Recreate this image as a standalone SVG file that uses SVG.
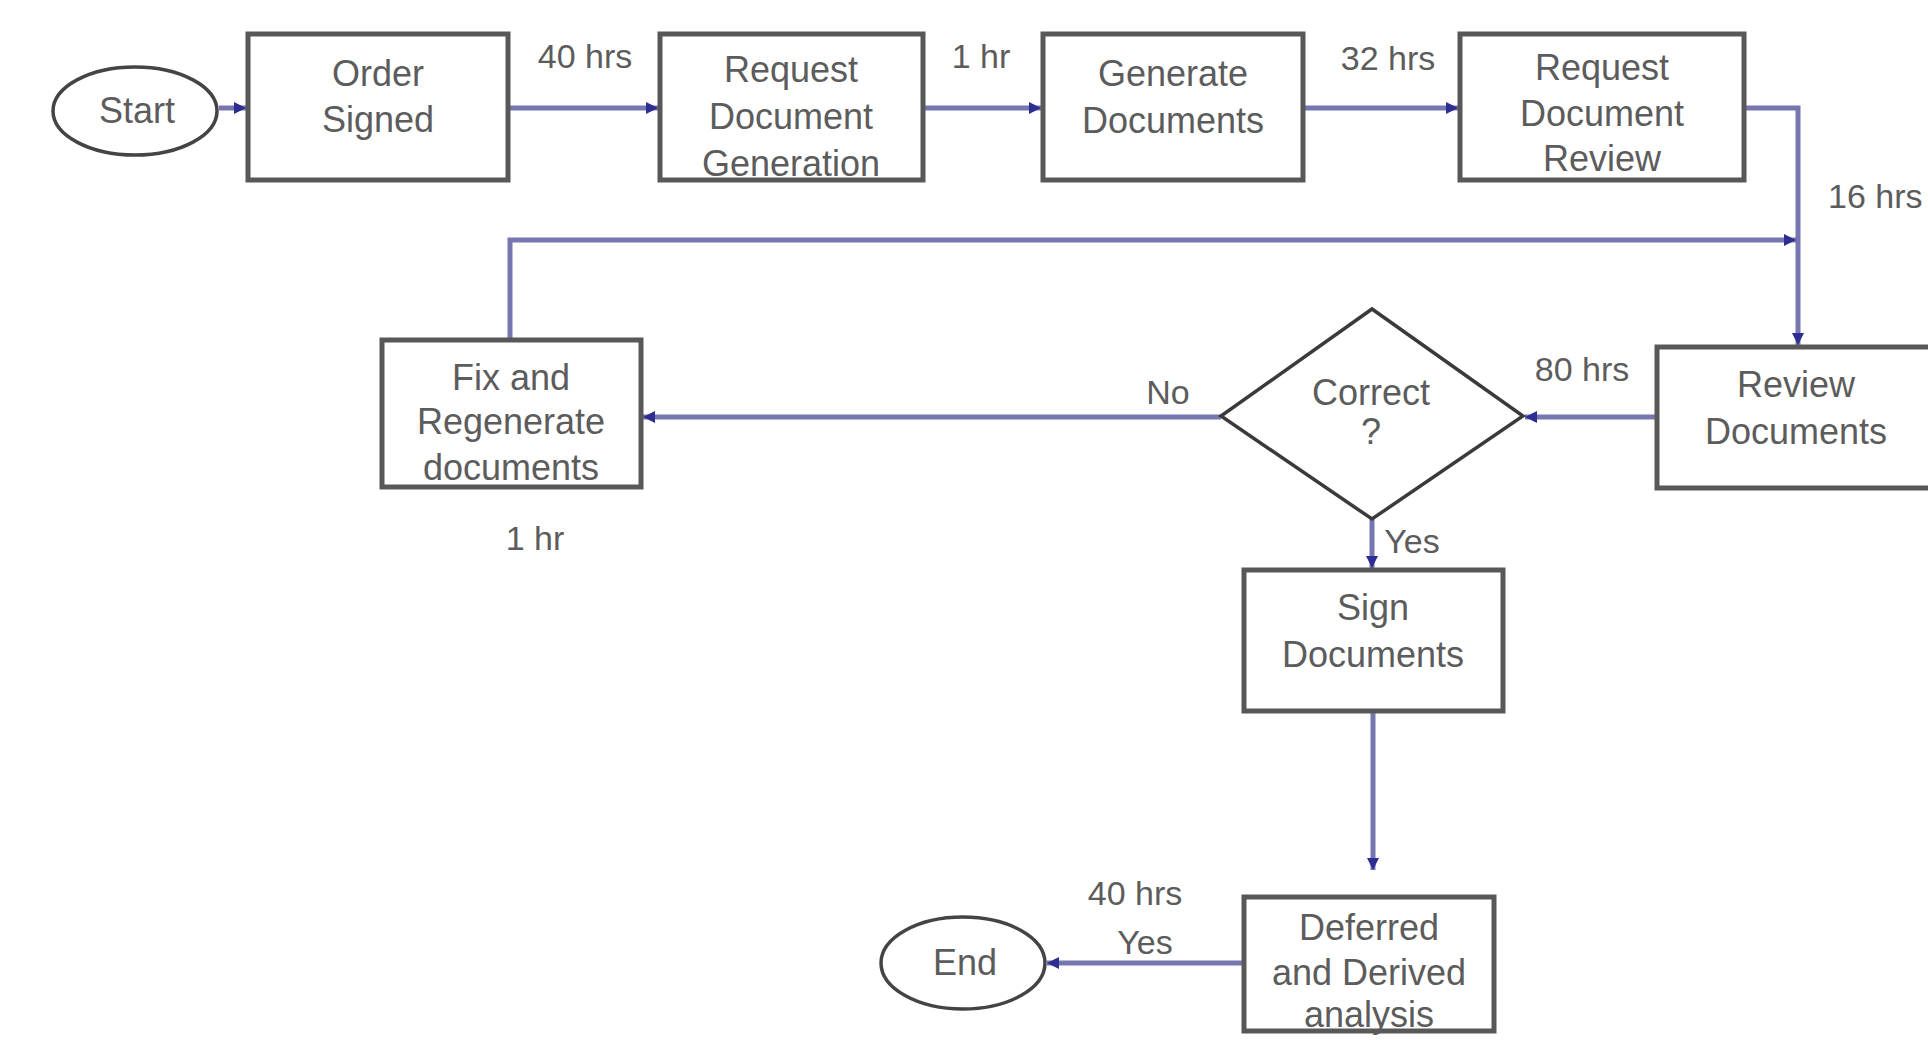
<svg xmlns="http://www.w3.org/2000/svg" width="1928" height="1040" viewBox="0 0 1928 1040">
<defs>
<marker id="arr" viewBox="0 0 10 10" refX="10" refY="5" markerWidth="12" markerHeight="12" markerUnits="userSpaceOnUse" orient="auto">
<path d="M0,0 L10,5 L0,10 z" fill="#2e2e92"/>
</marker>
<style>
.box{fill:#fff;stroke:#585858;stroke-width:5}
.term{fill:#fff;stroke:#444;stroke-width:3.5}
.dec{fill:#fff;stroke:#3a3a3a;stroke-width:3.5}
.t{font-family:"Liberation Sans",Arial,sans-serif;font-size:36px;fill:#5c5c5c;text-anchor:middle}
.lbl{font-family:"Liberation Sans",Arial,sans-serif;font-size:34px;fill:#5c5c5c;text-anchor:middle}
.c{fill:none;stroke:#7676b0;stroke-width:5;marker-end:url(#arr)}
</style>
</defs>
<rect width="1928" height="1040" fill="#fff"/>
<g id="connectors">
<path class="c" d="M219,108 H246"/>
<path class="c" d="M508,108 H658"/>
<path class="c" d="M923,108 H1041"/>
<path class="c" d="M1303,108 H1458"/>
<path class="c" d="M1744,108 H1798 V345"/>
<path class="c" d="M510,340 V240 H1796"/>
<path class="c" d="M1657,417 H1525"/>
<path class="c" d="M1221,417 H643"/>
<path class="c" d="M1372,519 V568"/>
<path class="c" d="M1373,711 V870"/>
<path class="c" d="M1244,963 H1047"/>
<text class="lbl" x="585" y="68">40 hrs</text>
<text class="lbl" x="981" y="68">1 hr</text>
<text class="lbl" x="1388" y="70">32 hrs</text>
<text class="lbl" x="1828" y="208" style="text-anchor:start">16 hrs</text>
<text class="lbl" x="1582" y="381">80 hrs</text>
<text class="lbl" x="1168" y="404">No</text>
<text class="lbl" x="535" y="550">1 hr</text>
<text class="lbl" x="1412" y="553">Yes</text>
<text class="lbl" x="1135" y="905">40 hrs</text>
<text class="lbl" x="1145" y="954">Yes</text>
</g>
<g id="start">
<ellipse class="term" cx="135" cy="111" rx="82" ry="44"/>
<text class="t" x="137" y="123">Start</text>
</g>
<g id="order-signed">
<rect class="box" x="248" y="34" width="260" height="146"/>
<text class="t" x="378" y="86">Order</text>
<text class="t" x="378" y="132">Signed</text>
</g>
<g id="request-generation">
<rect class="box" x="660" y="34" width="263" height="146"/>
<text class="t" x="791" y="82">Request</text>
<text class="t" x="791" y="129">Document</text>
<text class="t" x="791" y="176">Generation</text>
</g>
<g id="generate-documents">
<rect class="box" x="1043" y="34" width="260" height="146"/>
<text class="t" x="1173" y="86">Generate</text>
<text class="t" x="1173" y="133">Documents</text>
</g>
<g id="request-review">
<rect class="box" x="1460" y="34" width="284" height="146"/>
<text class="t" x="1602" y="80">Request</text>
<text class="t" x="1602" y="126">Document</text>
<text class="t" x="1602" y="171">Review</text>
</g>
<g id="review-documents">
<rect class="box" x="1657" y="347" width="280" height="141"/>
<text class="t" x="1796" y="397">Review</text>
<text class="t" x="1796" y="444">Documents</text>
</g>
<g id="correct">
<path class="dec" d="M1372,309 L1523,416 L1372,519 L1221,416 Z"/>
<text class="t" x="1371" y="405">Correct</text>
<text class="t" x="1371" y="444">?</text>
</g>
<g id="fix-regenerate">
<rect class="box" x="382" y="340" width="259" height="147"/>
<text class="t" x="511" y="390">Fix and</text>
<text class="t" x="511" y="434">Regenerate</text>
<text class="t" x="511" y="480">documents</text>
</g>
<g id="sign-documents">
<rect class="box" x="1244" y="570" width="259" height="141"/>
<text class="t" x="1373" y="620">Sign</text>
<text class="t" x="1373" y="667">Documents</text>
</g>
<g id="deferred-analysis">
<rect class="box" x="1244" y="897" width="250" height="134"/>
<text class="t" x="1369" y="940">Deferred</text>
<text class="t" x="1369" y="985">and Derived</text>
<text class="t" x="1369" y="1027">analysis</text>
</g>
<g id="end">
<ellipse class="term" cx="963" cy="963" rx="82" ry="46"/>
<text class="t" x="965" y="975">End</text>
</g>
</svg>
